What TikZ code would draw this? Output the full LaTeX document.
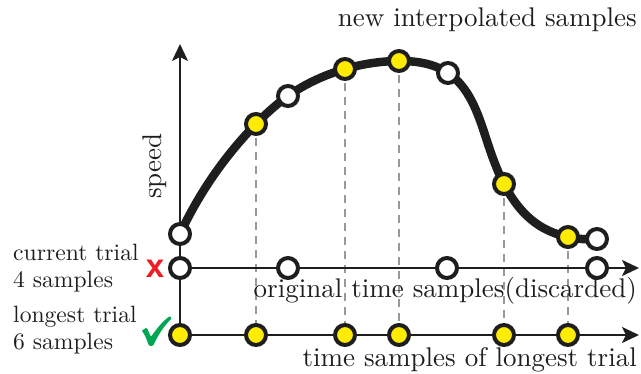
\documentclass[tikz,border=0pt]{standalone}
\usepackage{fontspec}
\newfontfamily\xfont{Liberation Sans}
\usetikzlibrary{arrows.meta,hobby}
\definecolor{dotyellow}{RGB}{255,236,0}
\definecolor{xred}{RGB}{236,28,36}
\definecolor{ckgreen}{RGB}{0,166,81}
\definecolor{ink}{RGB}{30,30,30}
\tikzset{
  axis/.style={line width=2.3pt, draw=ink, -{Stealth[length=17pt,width=16pt,inset=4pt]}},
  opendot/.style={circle, draw=ink, line width=4pt, fill=white, minimum size=20pt, inner sep=0pt},
  yeldot/.style={circle, draw=ink, line width=4pt, fill=dotyellow, minimum size=20pt, inner sep=0pt},
  guide/.style={draw=gray!80, line width=1.8pt, dash pattern=on 8pt off 6pt},
  lbl/.style={text=ink, inner sep=0pt},
}
\newcommand{\bigtxt}[1]{\scalebox{2.7}{#1}}
\newcommand{\midtxt}[1]{\scalebox{2.36}{#1}}
\begin{document}
\begin{tikzpicture}[x=1pt,y=-1pt]
\useasboundingbox (0,0) rectangle (641,374);
% curve points
\coordinate (c1) at (180,234);
\coordinate (c2) at (256,124);
\coordinate (c3) at (288,96);
\coordinate (c4) at (345,69);
\coordinate (c5) at (399,61);
\coordinate (c6) at (448,73);
\coordinate (c7) at (504,184);
\coordinate (c8) at (568,237);
\coordinate (c9) at (597,239);
% axis endpoints
\coordinate (vtop) at (180,44);
\coordinate (vbot) at (180,335);
\coordinate (aend) at (639,268);
\coordinate (bend) at (639,335);
% row coordinates
\coordinate (a1) at (180,268);
\coordinate (b1) at (180,335);
\coordinate (b2) at (256,335);
\coordinate (b3) at (345,335);
\coordinate (b4) at (399,335);
\coordinate (b5) at (504,335);
\coordinate (b6) at (568,335);
% dashed guides
\foreach \i/\j in {2/2,4/3,5/4,7/5,8/6} \draw[guide] (c\i) -- (b\j);
% axes
\draw[axis] (vbot) -- (vtop);
\draw[axis] (a1) -- (aend);
\draw[axis] (b1) -- (bend);
% row dots
\node[opendot] (d1) at (180,268) {};
\node[opendot] (d2) at (288,268) {};
\node[opendot] (d3) at (447,268) {};
\node[opendot] (d4) at (597,268) {};
\node[yeldot] (e1) at (b1) {};
\node[yeldot] (e2) at (b2) {};
\node[yeldot] (e3) at (b3) {};
\node[yeldot] (e4) at (b4) {};
\node[yeldot] (e5) at (b5) {};
\node[yeldot] (e6) at (b6) {};
% curve
\draw[line width=8.5pt, draw=ink, line cap=round, use Hobby shortcut]
  (180,234) .. (256,124) .. (288,96) .. (345,69) .. (399,61) .. (448,73) .. (486,138) .. (504,184) .. (540,226) .. (568,237) .. (597,239);
\node[opendot] (p1) at (c1) {};
\node[yeldot] (p2) at (c2) {};
\node[opendot] (p3) at (c3) {};
\node[yeldot] (p4) at (c4) {};
\node[yeldot] (p5) at (c5) {};
\node[opendot] (p6) at (c6) {};
\node[yeldot] (p7) at (c7) {};
\node[yeldot] (p8) at (c8) {};
\node[opendot] (p9) at (c9) {};
% labels
\node[lbl, anchor=base east] (t1) at (637,27) {\bigtxt{new interpolated samples}};
\node[lbl, rotate=90, anchor=base] (t2) at (161,166) {\bigtxt{speed}};
\node[lbl, anchor=base west] (t3) at (13,261) {\midtxt{current trial}};
\node[lbl, anchor=base west] (t4) at (13,288) {\midtxt{4 samples}};
\node[lbl, anchor=base west] (t5) at (13,323) {\midtxt{longest trial}};
\node[lbl, anchor=base west] (t6) at (13,350) {\midtxt{6 samples}};
\node[lbl, anchor=base east] (t7) at (637,298) {\bigtxt{original time samples(discarded)}};
\node[lbl, anchor=base east] (t8) at (637,367) {\bigtxt{time samples of longest trial}};
\node[text=xred, font=\xfont\bfseries\fontsize{33}{33}\selectfont, inner sep=0pt] (xm) at (155,269) {x};
% check mark
\fill[ckgreen, rounded corners=1.2pt]
  (142,331) .. controls (144,329) and (146,328) .. (147,328)
  -- (151,337)
  .. controls (157,328) and (163,321) .. (170,316)
  -- (172,318)
  .. controls (164,326) and (158,335) .. (153,346)
  -- (149,346) .. controls (147,340) and (145,335) .. (142,331) -- cycle;
\end{tikzpicture}
\end{document}
